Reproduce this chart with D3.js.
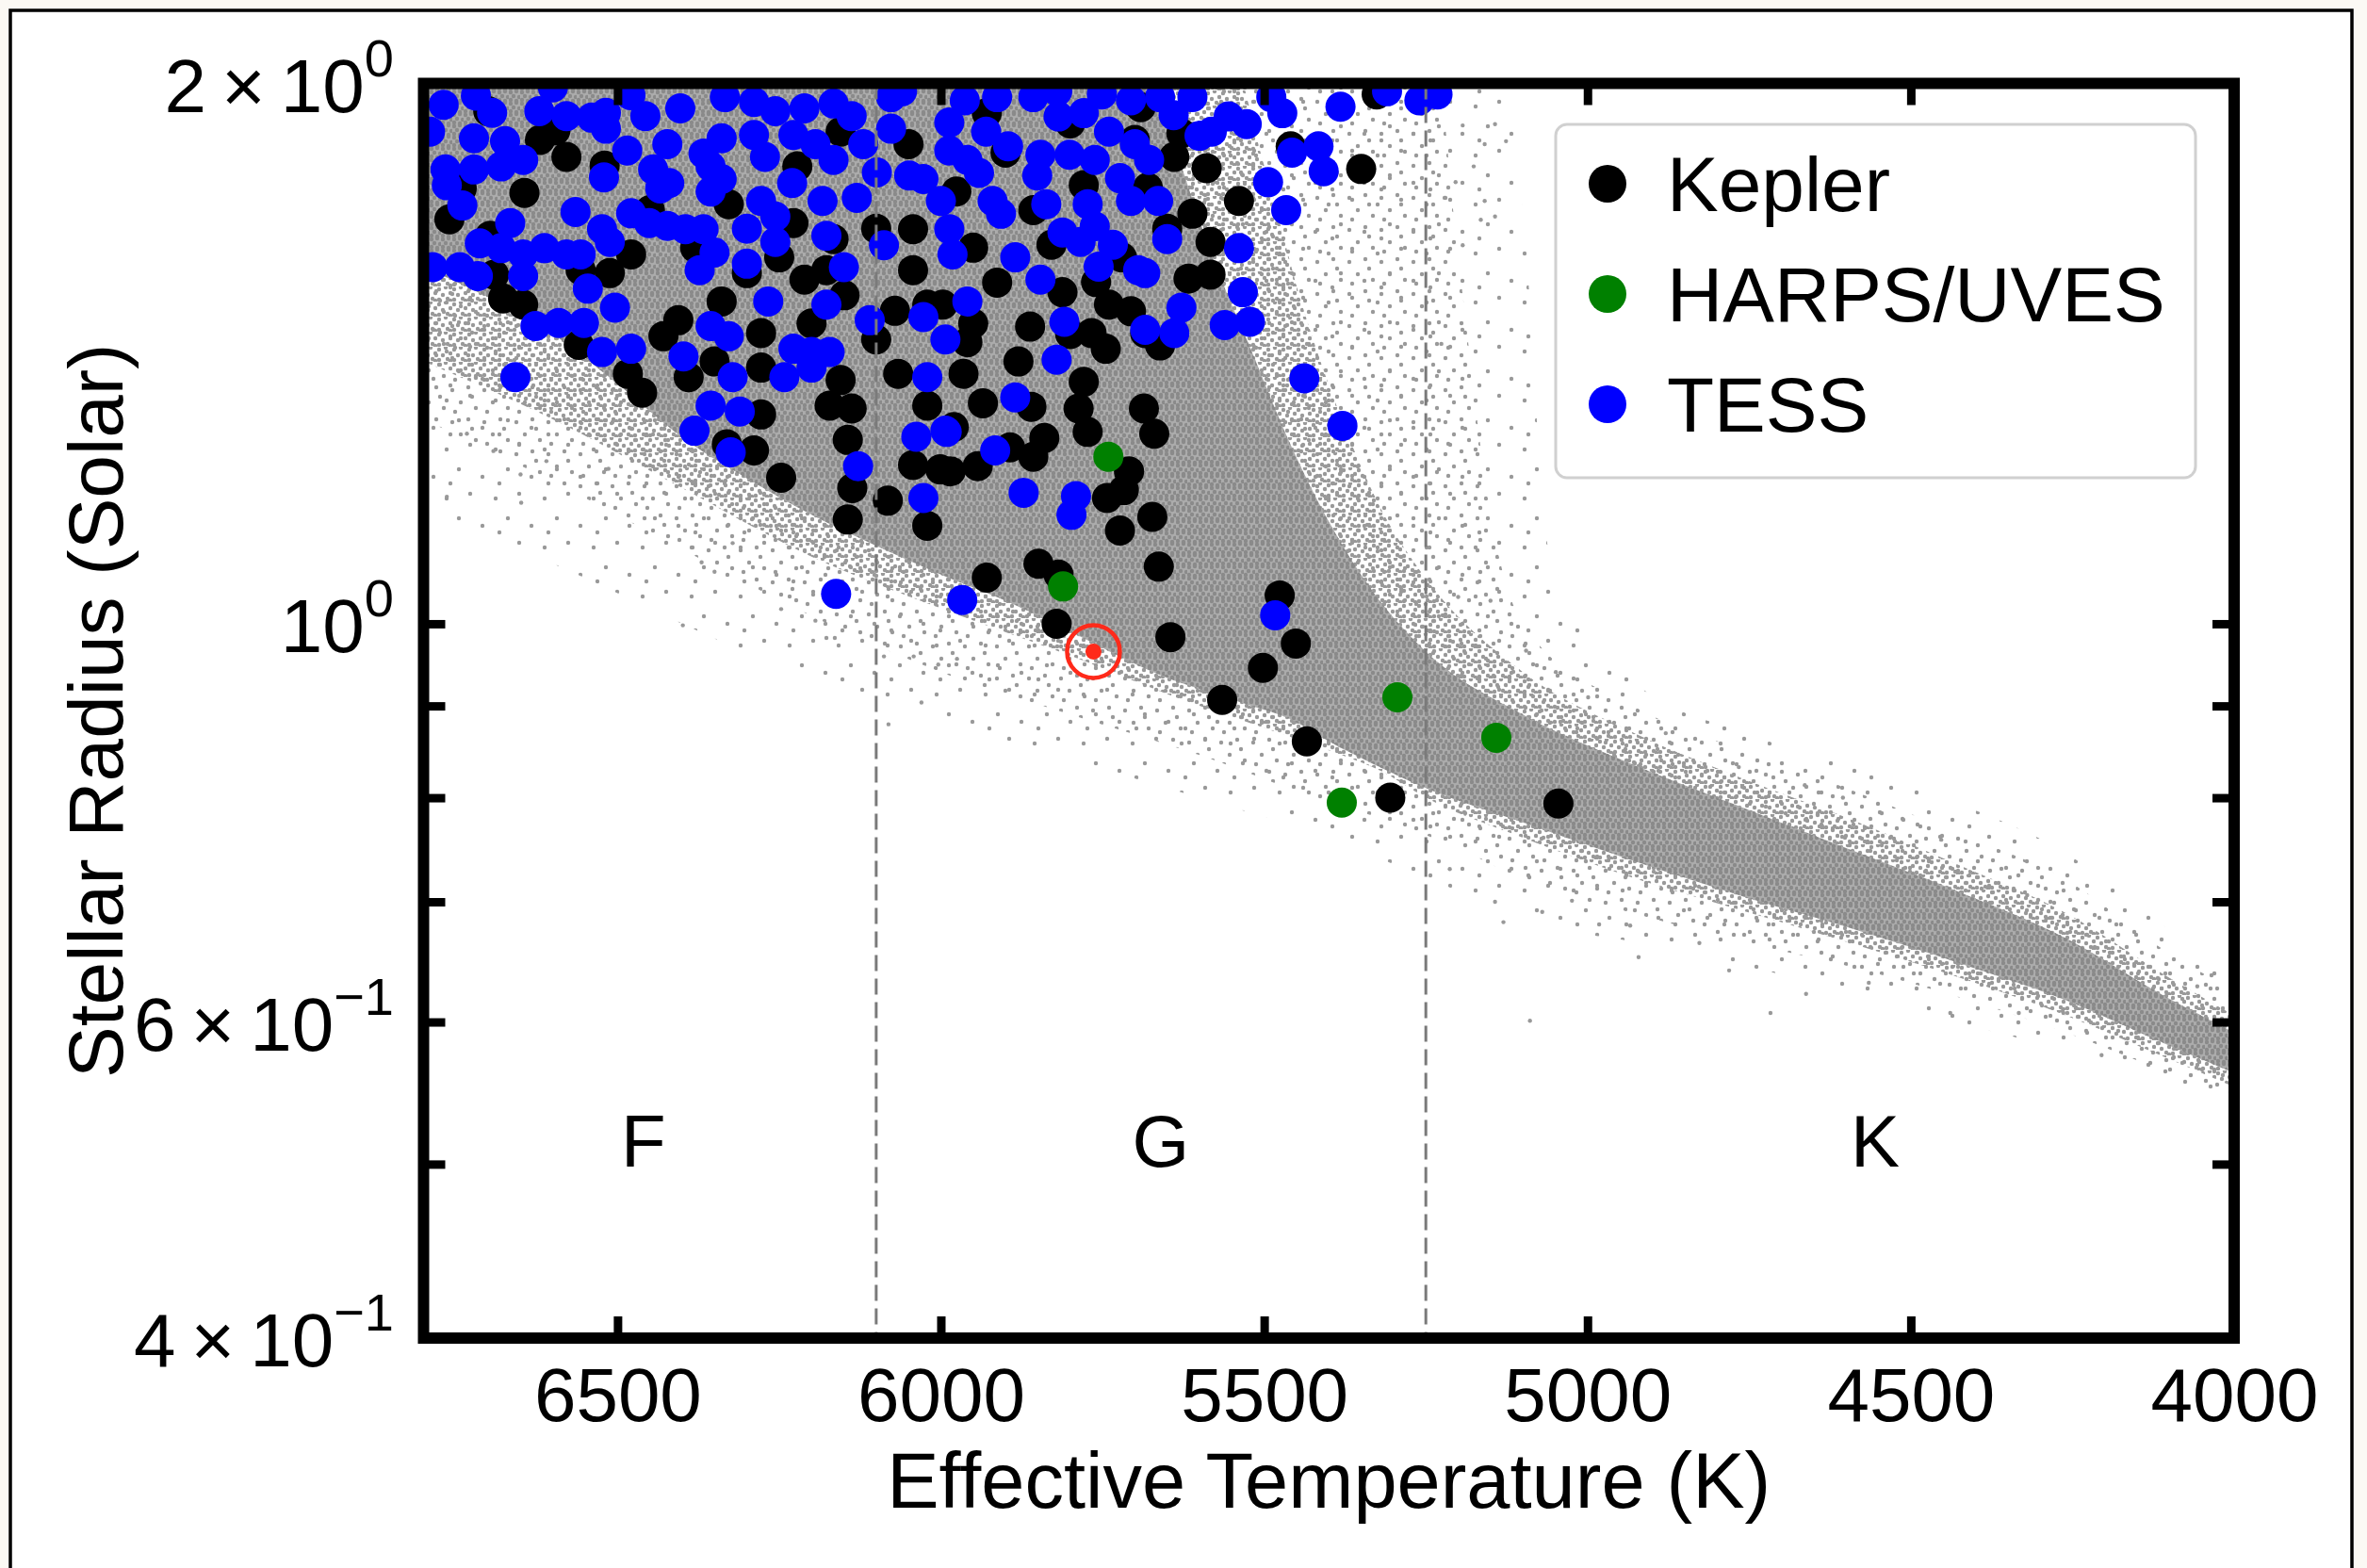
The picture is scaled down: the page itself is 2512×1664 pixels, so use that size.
<!DOCTYPE html>
<html><head><meta charset="utf-8">
<script src="https://cdn.jsdelivr.net/npm/d3@7"></script>
<style>
body{margin:0;background:#fbf9f4;}
svg{display:block;font-family:"Liberation Sans", Arial, Helvetica, sans-serif;}
</style></head><body>
<svg id="chart" width="2512" height="1664"></svg>
<script>
// ---------------- DATA ----------------
const xTickValues = [6500, 6000, 5500, 5000, 4500, 4000];
const yTickValues = [0.4, 0.5, 0.6, 0.7, 0.8, 0.9, 1, 2];
const yLabelValues = [2, 1, 0.6, 0.4];
const yLabelMantissa = ["2", "", "6", "4"];
const yLabelExponent = ["0", "0", "\u22121", "\u22121"];
const classBoundaries = [6100, 5250];
const classLabels = ["F", "G", "K"];
const classLabelTeff = [6460, 5660, 4555];
const classLabelRadius = 0.5;

// Kepler hosts
const keplerTeff = [6596,6155,6579,6222,6741,6644,6328,5976,6697,6228,6166,6043,6479,6691,6677,6646,6557,6512,6300,6211,6177,6149,6043,6339,6406,6429,6278,6071,6021,5959,6484,6462,6390,6278,6155,6066,5965,6278,6172,6138,6021,6144,6289,6331,6247,6137,6082,6144,6043,6001,6021,5935,5860,5779,5787,5773,5686,5670,5980,5985,5943,5893,5857,5840,5709,5717,5743,5673,5723,5929,5849,5818,5821,5663,5645,5476,5451,5502,5565,5434,5305,5045,5350,5459,5539,5326,5589,5628,5639,5611,5583,5583,5617,5661,5684,5740,5767,5862,5829,5857,5779,5913,5929,5997,5691,5745,5706,5812,
6700,6620,6520,6450,6380,6250,6100,6050,5950,5900,5800,5700,5650,5720,5880,5950,6100,6200,6350,6560,6760,5800,5760,5680];
const keplerRadius = [1.883,1.880,1.820,1.798,1.748,1.738,1.713,1.741,1.645,1.672,1.638,1.659,1.606,1.565,1.518,1.506,1.574,1.568,1.568,1.555,1.574,1.524,1.574,1.512,1.476,1.446,1.452,1.494,1.506,1.435,1.378,1.345,1.372,1.389,1.367,1.378,1.378,1.308,1.323,1.318,1.323,1.266,1.249,1.259,1.206,1.190,1.171,1.143,1.226,1.219,1.134,1.327,1.321,1.364,1.318,1.279,1.318,1.276,1.287,1.216,1.224,1.254,1.239,1.269,1.216,1.187,1.175,1.147,1.127,1.061,1.080,1.065,1.000,1.076,0.983,1.037,0.975,0.945,0.907,0.860,0.800,0.794,1.792,1.845,1.720,1.972,1.794,1.876,1.820,1.692,1.632,1.565,1.557,1.429,1.452,1.506,1.452,1.464,1.626,1.700,1.755,1.549,1.925,1.506,1.940,1.423,1.493,1.530,
1.93,1.86,1.80,1.70,1.62,1.60,1.66,1.85,1.62,1.83,1.90,1.86,1.66,1.60,1.40,1.47,1.44,1.47,1.40,1.43,1.68,1.45,1.55,1.75];

// HARPS/UVES hosts
const harpsTeff = [5741, 5811, 5294, 5141, 5380];
const harpsRadius = [1.239, 1.049, 0.910, 0.864, 0.795];

// TESS hosts
const tessTeff = [6769,6719,6694,6621,6579,6540,6518,6457,6403,6334,6289,6256,6211,6166,6138,6077,5987,
6722,6674,6646,6518,6485,6423,6367,6339,6289,6272,6228,6194,6166,6077,5987,
6766,6764,6722,6680,6521,6445,6434,6356,6339,6356,6278,6183,6130,6099,6049,6027,5959,
6565,6666,6713,6680,6646,6613,6579,6557,6524,6512,6479,6451,6423,6395,6367,6256,6256,6177,6088,5987,5982,
6786,6744,6716,6646,6546,6373,6300,6267,6177,5959,
6627,6591,6552,6504,6524,6479,6356,6328,6398,6228,6200,6172,6110,6027,5993,
6658,6322,6242,6200,6021,6356,6311,6381,6038,5993,
6325,6128,6027,6162,5885,5991,5916,5872,5791,5798,5967,5483,5379,5438,
5382,5416,5408,5457,5472,5489,5310,5260,5232,5527,5555,5581,5494,5466,5539,5533,5561,5522,5628,5639,5684,5684,5650,5678,5664,5611,5661,5706,5751,5779,5740,5818,5857,5913,5963,5896,5846,5801,5762,5941,5851,5723,5907,5837,5773,5706,5812,5762,5734,5784,5885,5846,5756,5695,5809,5821,
6790,6740,6600,6480,6420,6300,6230,6120,6060,5930,5820,5700,5640,5600,6350,6150,6000,5920];
const tessRadius = [1.946,1.969,1.926,1.930,1.918,1.914,1.926,1.918,1.937,1.965,1.953,1.930,1.937,1.949,1.918,1.965,1.902,
1.864,1.857,1.813,1.887,1.835,1.850,1.828,1.864,1.872,1.820,1.872,1.850,1.813,1.887,1.835,
1.791,1.755,1.791,1.798,1.773,1.791,1.748,1.798,1.769,1.741,1.720,1.720,1.727,1.784,1.777,1.769,1.813,
1.696,1.672,1.629,1.619,1.606,1.619,1.606,1.606,1.659,1.632,1.693,1.672,1.666,1.659,1.659,1.686,1.632,1.645,1.625,1.659,1.606,
1.580,1.580,1.562,1.562,1.537,1.574,1.587,1.512,1.506,1.512,
1.465,1.471,1.471,1.500,1.417,1.423,1.465,1.446,1.409,1.423,1.417,1.417,1.476,1.482,1.440,
1.372,1.372,1.372,1.389,1.372,1.323,1.313,1.281,1.271,1.281,
1.246,1.224,1.175,1.039,1.337,1.279,1.249,1.183,1.178,1.150,1.031,1.011,1.289,1.370,
1.941,1.845,1.787,1.830,1.925,1.965,1.980,1.957,1.972,1.898,1.917,1.880,1.762,1.700,1.619,1.530,1.467,1.473,1.500,1.452,1.458,1.568,1.638,1.813,1.720,1.965,1.965,1.957,1.972,1.925,1.880,1.917,1.965,1.965,1.957,1.845,1.825,1.825,1.813,1.783,1.777,1.771,1.692,1.713,1.713,1.720,1.652,1.665,1.626,1.632,1.600,1.555,1.581,1.574,1.473,1.403,
1.88,1.71,1.99,1.97,1.76,1.66,1.76,1.85,1.98,1.88,1.98,1.85,1.92,1.87,1.61,1.58,1.72,1.72];

// Sun
const sunTeff = 5764;
const sunRadius = 0.965;

// Background field-star population, read as density envelopes [Teff, lower R, upper R]
const fieldFringeTeff = [6800,6600,6400,6200,6000,5800,5600,5400,5200,5150,5100,5060,4930,4760,4600,4430,4260,4100,4000];
const fieldFringeLo = [1.15,1.08,1.00,0.93,0.88,0.84,0.80,0.76,0.71,0.70,0.69,0.68,0.665,0.645,0.625,0.60,0.578,0.553,0.54];
const fieldFringeHi = [2.1,2.1,2.1,2.1,2.1,2.1,2.1,2.1,2.1,2.1,1.7,1.1,0.93,0.87,0.835,0.795,0.745,0.675,0.64];

const fieldSparseTeff = [6800,6600,6400,6200,6000,5800,5600,5400,5300,5240,5200,5150,5100,4930,4760,4600,4430,4260,4100,4000];
const fieldSparseLo = [1.30,1.20,1.10,1.01,0.94,0.89,0.845,0.795,0.775,0.76,0.75,0.735,0.72,0.69,0.665,0.645,0.62,0.592,0.562,0.545];
const fieldSparseHi = [2.1,2.1,2.1,2.1,2.1,2.1,2.1,2.1,2.1,2.1,1.6,1.15,1.0,0.9,0.85,0.81,0.765,0.72,0.655,0.625];

const fieldMediumTeff = [6800,6600,6400,6200,6000,5800,5600,5560,5500,5440,5380,5320,5250,5100,4930,4760,4600,4430,4260,4100,4000];
const fieldMediumLo = [1.40,1.30,1.19,1.09,1.02,0.96,0.90,0.89,0.875,0.86,0.845,0.828,0.80,0.76,0.722,0.692,0.665,0.636,0.605,0.572,0.552];
const fieldMediumHi = [2.1,2.1,2.1,2.1,2.1,2.1,2.1,2.1,1.8,1.5,1.3,1.16,1.06,0.94,0.87,0.82,0.78,0.735,0.69,0.635,0.605];

const fieldDenseTeff = [6800,6700,6600,6500,6400,6300,6200,6100,6000,5900,5800,5700,5640,5580,5520,5460,5400,5330,5250,5100,4930,4760,4600,4430,4260,4100,4000];
const fieldDenseLo = [1.58,1.52,1.45,1.36,1.27,1.205,1.15,1.105,1.065,1.03,0.99,0.95,0.93,0.915,0.90,0.885,0.86,0.835,0.81,0.775,0.738,0.705,0.678,0.648,0.617,0.582,0.562];
const fieldDenseHi = [2.1,2.1,2.1,2.1,2.1,2.1,2.1,2.1,2.1,2.1,2.1,2.1,1.85,1.6,1.42,1.26,1.14,1.04,0.965,0.89,0.835,0.79,0.75,0.71,0.668,0.618,0.592];

// isolated field stars outside the envelopes
const fieldOutlierTeff = [6764,6649,6399,6030,6081,6177,6164,6088,6004,5975,6042,6370,6350,6247,6194,6322,6733,6692,6650,6514,6610,
5089,4717,4205,4921,4781,4662,4565,4439,4264,4333,4057,4035,5130,5143,4982,4934,4827,5213,5024,5070,4879,4766,4664,4605,4453,4320,4284,5150,5200,5049,4999,5095,
5193,5159,5143,5176,5193,5226,5143,5165,5221,5204,5159,5126];
const fieldOutlierRadius = [1.177,1.168,0.998,0.904,0.879,0.982,0.982,0.959,0.949,0.956,0.959,1.082,1.069,1.019,1.004,1.109,1.276,1.248,1.211,1.220,1.232,
0.601,0.607,0.575,0.652,0.641,0.622,0.631,0.607,0.607,0.607,0.628,0.637,0.682,0.700,0.680,0.679,0.664,0.730,0.701,0.691,0.869,0.832,0.813,0.800,0.758,0.706,0.700,1.03,1.035,0.940,0.910,0.966,
1.895,1.850,1.898,1.798,1.625,1.432,1.686,1.679,1.727,1.762,1.720,1.857];

const legendNames = ["Kepler", "HARPS/UVES", "TESS"];

// ---------------- STYLE / LAYOUT ----------------
const W = 2512, H = 1664;
const plot = {left: 449.5, right: 2371, top: 88.5, bottom: 1420};
const colors = {Kepler: "#000000", "HARPS/UVES": "#008000", TESS: "#0000ff"};
const fieldColor = "#999999";
const dotR = 16, fieldR = 2.2;
const FS = 83;

const svg = d3.select("#chart");
const x = d3.scaleLinear().domain([6800, 4000]).range([plot.left, plot.right]);
const y = d3.scaleLog().domain([0.4, 2]).range([plot.bottom, plot.top]);

// figure frame
svg.append("rect").attr("x", 11).attr("y", 11).attr("width", 2485).attr("height", H).attr("fill", "#ffffff");
svg.append("path").attr("d", `M11,${H} V11 H2496 V${H}`).attr("fill", "none").attr("stroke", "#000").attr("stroke-width", 3.5);

const defs = svg.append("defs");
defs.append("clipPath").attr("id", "clip").append("rect")
  .attr("x", plot.left).attr("y", plot.top).attr("width", plot.right - plot.left).attr("height", plot.bottom - plot.top);

function makePattern(id, size, pts, bg, col) {
  const p = defs.append("pattern").attr("id", id).attr("patternUnits", "userSpaceOnUse")
    .attr("width", size).attr("height", size);
  if (bg) p.append("rect").attr("width", size).attr("height", size).attr("fill", bg);
  pts.forEach(q => p.append("circle").attr("cx", q[0]).attr("cy", q[1]).attr("r", fieldR).attr("fill", col || fieldColor));
}
makePattern("pFringe", 52, [[6,9],[31,4],[19,30],[44,38],[10,45]]);
makePattern("pSparse", 34, [[4,6],[21,3],[13,19],[29,25],[7,29],[25,13]]);
makePattern("pMed", 16, [[2,3],[9,1],[14,7],[6,9],[11,13],[2,14],[14,15]]);
makePattern("pDense", 12, [[2,2],[8,1],[5,6],[11,7],[2,10],[8,11]], "#acacac", "#8a8a8a");

const g = svg.append("g").attr("clip-path", "url(#clip)");

const area = d3.area().x(d => x(d[0])).y0(d => y(d[1])).y1(d => y(d[2])).curve(d3.curveMonotoneX);
const zip3 = (a, b, c) => a.map((v, i) => [v, b[i], c[i]]);
g.append("path").attr("d", area(zip3(fieldFringeTeff, fieldFringeLo, fieldFringeHi))).attr("fill", "url(#pFringe)");
g.append("path").attr("d", area(zip3(fieldSparseTeff, fieldSparseLo, fieldSparseHi))).attr("fill", "url(#pSparse)");
g.append("path").attr("d", area(zip3(fieldMediumTeff, fieldMediumLo, fieldMediumHi))).attr("fill", "url(#pMed)");
g.append("path").attr("d", area(zip3(fieldDenseTeff, fieldDenseLo, fieldDenseHi))).attr("fill", "url(#pDense)");

g.selectAll(".out").data(fieldOutlierTeff.map((t, i) => [t, fieldOutlierRadius[i]])).join("circle")
  .attr("cx", d => x(d[0])).attr("cy", d => y(d[1])).attr("r", fieldR).attr("fill", fieldColor);

function scatter(teff, rad, color) {
  g.append("g").selectAll("circle").data(teff.map((t, i) => [t, rad[i]])).join("circle")
    .attr("cx", d => x(d[0])).attr("cy", d => y(d[1])).attr("r", dotR).attr("fill", color);
}
scatter(keplerTeff, keplerRadius, colors.Kepler);
scatter(harpsTeff, harpsRadius, colors["HARPS/UVES"]);
scatter(tessTeff, tessRadius, colors.TESS);

// Sun
g.append("circle").attr("cx", x(sunTeff)).attr("cy", y(sunRadius)).attr("r", 28)
  .attr("fill", "none").attr("stroke", "#ff2a1a").attr("stroke-width", 4.5);
g.append("circle").attr("cx", x(sunTeff)).attr("cy", y(sunRadius)).attr("r", 8.5).attr("fill", "#ff2a1a");

// class boundaries
g.selectAll(".bound").data(classBoundaries).join("line")
  .attr("x1", d => x(d)).attr("x2", d => x(d)).attr("y1", plot.top).attr("y2", plot.bottom)
  .attr("stroke", "#7a7a7a").attr("stroke-width", 3).attr("stroke-dasharray", "17 8");

// class labels
svg.selectAll(".cls").data(classLabels).join("text")
  .attr("x", (d, i) => x(classLabelTeff[i])).attr("y", y(classLabelRadius) + 3)
  .attr("text-anchor", "middle").attr("font-size", 78).text(d => d);

// axes
function styleAxis(sel) {
  sel.select(".domain").remove();
  sel.selectAll(".tick line").attr("stroke", "#000").attr("stroke-width", 9);
}
svg.append("g").attr("transform", `translate(0,${plot.bottom})`)
  .call(d3.axisBottom(x).tickValues(xTickValues).tickSizeInner(-23).tickSizeOuter(0).tickPadding(31).tickFormat(d3.format("d")))
  .call(styleAxis)
  .call(s => s.selectAll("text").attr("font-size", 80).attr("font-family", "Liberation Sans, Arial, sans-serif").attr("fill", "#000"));
svg.append("g").attr("transform", `translate(0,${plot.top})`)
  .call(d3.axisTop(x).tickValues(xTickValues).tickSizeInner(-23).tickSizeOuter(0).tickFormat(""))
  .call(styleAxis);
svg.append("g").attr("transform", `translate(${plot.left},0)`)
  .call(d3.axisLeft(y).tickValues(yTickValues).tickSizeInner(-23).tickSizeOuter(0).tickFormat(""))
  .call(styleAxis);
svg.append("g").attr("transform", `translate(${plot.right},0)`)
  .call(d3.axisRight(y).tickValues(yTickValues).tickSizeInner(-23).tickSizeOuter(0).tickFormat(""))
  .call(styleAxis);

// y tick labels with superscripts
yLabelValues.forEach((v, i) => {
  const t = svg.append("text").attr("x", 418).attr("y", y(v) + 30).attr("text-anchor", "end").attr("font-size", 80);
  t.append("tspan").text((yLabelMantissa[i] ? yLabelMantissa[i] + "\u2009\u00d7\u2009" : "") + "10");
  t.append("tspan").attr("dy", -38).attr("font-size", 56).text(yLabelExponent[i]);
});

// spines
svg.append("rect").attr("x", plot.left).attr("y", plot.top).attr("width", plot.right - plot.left)
  .attr("height", plot.bottom - plot.top).attr("fill", "none").attr("stroke", "#000").attr("stroke-width", 12);

// axis titles
svg.append("text").attr("x", (plot.left + plot.right) / 2).attr("y", 1600).attr("text-anchor", "middle")
  .attr("font-size", FS).text("Effective Temperature (K)");
svg.append("text").attr("transform", `translate(130,${(plot.top + plot.bottom) / 2}) rotate(-90)`)
  .attr("text-anchor", "middle").attr("font-size", 82).text("Stellar Radius (Solar)");

// legend
const lg = svg.append("g");
lg.append("rect").attr("x", 1651).attr("y", 132).attr("width", 679).attr("height", 375).attr("rx", 12)
  .attr("fill", "#fff").attr("stroke", "#d0d0d0").attr("stroke-width", 3);
legendNames.forEach((n, i) => {
  const cy = 195 + i * 117;
  lg.append("circle").attr("cx", 1706).attr("cy", cy).attr("r", 20).attr("fill", colors[n]);
  lg.append("text").attr("x", 1769).attr("y", cy + 29).attr("font-size", 82).text(n);
});
</script>
</body></html>
